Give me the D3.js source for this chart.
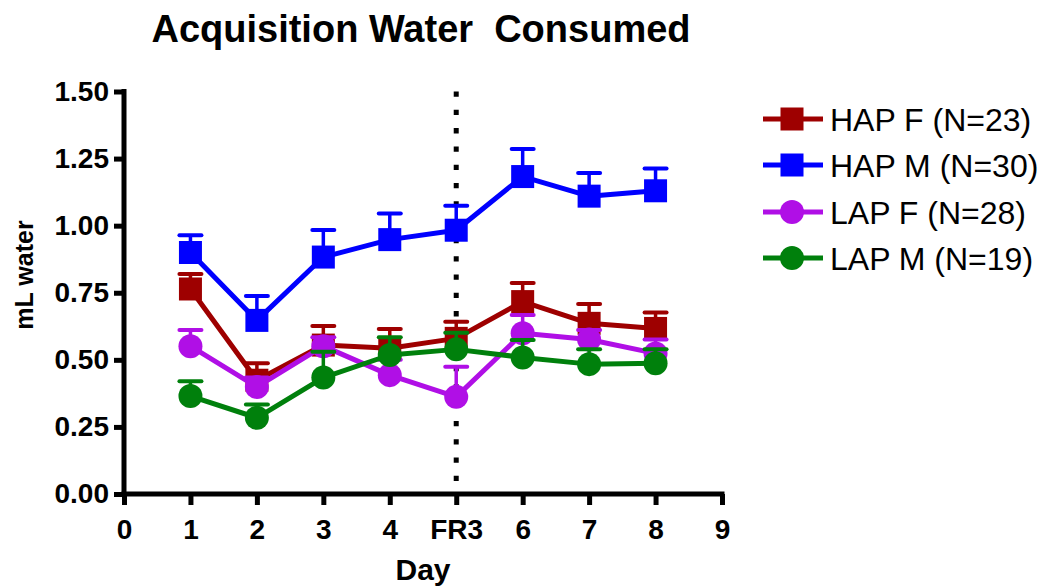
<!DOCTYPE html>
<html>
<head>
<meta charset="utf-8">
<script src="https://cdn.jsdelivr.net/npm/d3@7"></script>
<style>
  html, body { margin: 0; padding: 0; background: #fff; }
  svg { display: block; font-family: "Liberation Sans", Arial, sans-serif; }
</style>
</head>
<body>
<svg id="chart" width="1042" height="588"></svg>
<script>
// ---------------- data ----------------
const days = [1, 2, 3, 4, 5, 6, 7, 8];
const xTickValues = [0, 1, 2, 3, 4, 5, 6, 7, 8, 9];
const xTickLabels = ["0", "1", "2", "3", "4", "FR3", "6", "7", "8", "9"];
const yTickValues = [0, 0.25, 0.5, 0.75, 1.0, 1.25, 1.5];

const seriesNames = ["HAP F (N=23)", "HAP M (N=30)", "LAP F (N=28)", "LAP M (N=19)"];
const hapF    = [0.764, 0.424, 0.555, 0.543, 0.580, 0.717, 0.636, 0.617];
const hapFErr = [0.056, 0.063, 0.071, 0.072, 0.062, 0.069, 0.072, 0.059];
const hapM    = [0.900, 0.647, 0.883, 0.948, 0.983, 1.183, 1.110, 1.130];
const hapMErr = [0.064, 0.091, 0.101, 0.097, 0.091, 0.103, 0.086, 0.083];
const lapF    = [0.551, 0.399, 0.551, 0.443, 0.362, 0.599, 0.576, 0.524];
const lapFErr = [0.060, 0.035, 0.033, 0.057, 0.112, 0.068, 0.035, 0.052];
const lapM    = [0.365, 0.284, 0.434, 0.518, 0.539, 0.509, 0.484, 0.487];
const lapMErr = [0.055, 0.050, 0.096, 0.066, 0.062, 0.065, 0.055, 0.052];
const fr3Day = 5;

// ---------------- setup ----------------
const series = [
  { name: seriesNames[0], values: hapF, err: hapFErr, color: "#9e0000", shape: "square" },
  { name: seriesNames[1], values: hapM, err: hapMErr, color: "#0000ff", shape: "square" },
  { name: seriesNames[2], values: lapF, err: lapFErr, color: "#b00fe6", shape: "circle" },
  { name: seriesNames[3], values: lapM, err: lapMErr, color: "#00800c", shape: "circle" }
];

const svg = d3.select("#chart");
const x = d3.scaleLinear().domain([0, 9]).range([124, 722]);
const y = d3.scaleLinear().domain([0, 1.5]).range([494, 91.5]);

// title
svg.append("text")
  .attr("x", 421).attr("y", 42)
  .attr("text-anchor", "middle")
  .attr("font-size", 38).attr("font-weight", "bold")
  .text("Acquisition Water\u00a0 Consumed");

// axes
const xAxis = d3.axisBottom(x)
  .tickValues(xTickValues)
  .tickFormat((d, i) => xTickLabels[i])
  .tickSize(11).tickSizeOuter(0).tickPadding(14);
const gx = svg.append("g").attr("transform", `translate(0,${y(0)})`).call(xAxis);

const yAxis = d3.axisLeft(y)
  .tickValues(yTickValues)
  .tickFormat(d3.format(".2f"))
  .tickSize(10).tickSizeOuter(0).tickPadding(5);
const gy = svg.append("g").attr("transform", `translate(${x(0)},0)`).call(yAxis);

[gx, gy].forEach(g => {
  g.select(".domain").attr("stroke", "#000").attr("stroke-width", 5);
  g.selectAll(".tick line").attr("stroke", "#000").attr("stroke-width", 5);
  g.selectAll(".tick text").attr("fill", "#000").attr("font-size", 28).attr("font-weight", "bold")
    .attr("font-family", "'Liberation Sans', Arial, sans-serif");
});
// extend domains to cover thick ends
gx.select(".domain").attr("d", `M${x(0) - 2.5},0H${x(9) + 2.5}`);
gy.select(".domain").attr("d", `M0,${y(1.5) - 2.5}V${y(0)}`);

// axis titles
svg.append("text")
  .attr("x", 423).attr("y", 580)
  .attr("text-anchor", "middle")
  .attr("font-size", 30).attr("font-weight", "bold")
  .text("Day");
svg.append("text")
  .attr("transform", `translate(33,275) rotate(-90)`)
  .attr("text-anchor", "middle")
  .attr("font-size", 25).attr("font-weight", "bold")
  .text("mL water");

// dotted FR3 line
svg.append("line")
  .attr("x1", x(fr3Day)).attr("x2", x(fr3Day))
  .attr("y1", y(1.5)).attr("y2", y(0))
  .attr("stroke", "#000").attr("stroke-width", 5)
  .attr("stroke-dasharray", "5.3,13");

// series
const line = d3.line().x((d, i) => x(days[i])).y(d => y(d));
const SQ = 23, R = 12;

function drawMarker(g, shape, cx, cy, color) {
  if (shape === "square") {
    g.append("rect").attr("x", cx - SQ / 2).attr("y", cy - SQ / 2)
      .attr("width", SQ).attr("height", SQ).attr("fill", color);
  } else {
    g.append("circle").attr("cx", cx).attr("cy", cy).attr("r", R).attr("fill", color);
  }
}

series.forEach(s => {
  const g = svg.append("g");
  // error bars (above only)
  s.values.forEach((v, i) => {
    const cx = x(days[i]);
    g.append("line").attr("x1", cx).attr("x2", cx)
      .attr("y1", y(v)).attr("y2", y(v + s.err[i]))
      .attr("stroke", s.color).attr("stroke-width", 3.5);
    g.append("line").attr("x1", cx - 11).attr("x2", cx + 11)
      .attr("y1", y(v + s.err[i])).attr("y2", y(v + s.err[i]))
      .attr("stroke", s.color).attr("stroke-width", 4).attr("stroke-linecap", "round");
  });
  g.append("path").attr("d", line(s.values))
    .attr("fill", "none").attr("stroke", s.color).attr("stroke-width", 5)
    .attr("stroke-linejoin", "round");
  s.values.forEach((v, i) => drawMarker(g, s.shape, x(days[i]), y(v), s.color));
});

// legend
const legendY = [119, 165, 212, 258];
series.forEach((s, i) => {
  const g = svg.append("g");
  const ly = legendY[i];
  g.append("line").attr("x1", 763).attr("x2", 823).attr("y1", ly).attr("y2", ly)
    .attr("stroke", s.color).attr("stroke-width", 5);
  drawMarker(g, s.shape, 792, ly, s.color);
  g.append("text").attr("x", 830).attr("y", ly + 11.5)
    .attr("font-size", 32).attr("fill", "#000")
    .text(s.name);
});
</script>
</body>
</html>
